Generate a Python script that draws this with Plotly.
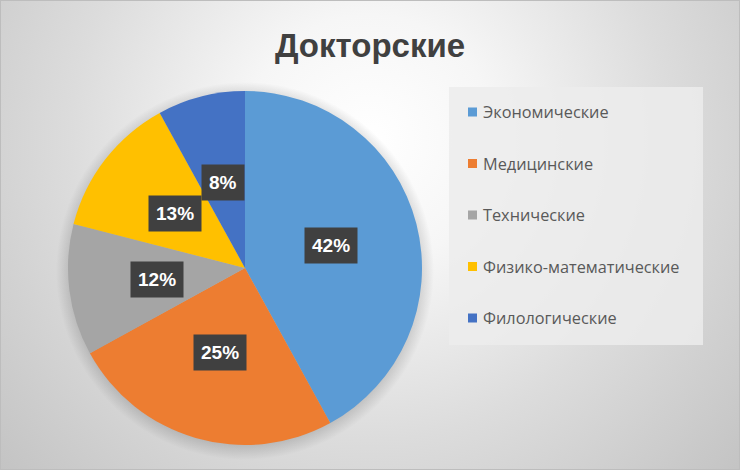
import base64
import math
import plotly.graph_objects as go

# ---- data ----
title_text = "Докторские"
categories = ["Экономические", "Медицинские", "Технические", "Физико-математические", "Филологические"]
values = [42, 25, 12, 13, 8]
colors = ["#5B9BD5", "#ED7D31", "#A5A5A5", "#FFC000", "#4472C4"]

W, H = 740, 470
FONT = "Liberation Sans, Arial, sans-serif"
LFONT = "Open Sans, Liberation Sans, sans-serif"

# pie geometry (pixels)
cx, cy, R = 245, 268, 177

# background gradient as SVG (with soft shadow under the pie)
svg = f"""<svg xmlns='http://www.w3.org/2000/svg' width='{W}' height='{H}'>
<defs><radialGradient id='g' gradientUnits='userSpaceOnUse' cx='370' cy='140' r='500'>
<stop offset='0' stop-color='#ffffff'/>
<stop offset='0.25' stop-color='#f6f6f6'/>
<stop offset='0.6' stop-color='#dcdcdc'/>
<stop offset='1' stop-color='#c3c3c3'/>
</radialGradient>
<radialGradient id='s' gradientUnits='userSpaceOnUse' cx='{cx}' cy='{cy + 3}' r='{R + 12}'>
<stop offset='0.88' stop-color='#000' stop-opacity='0.22'/>
<stop offset='1' stop-color='#000' stop-opacity='0'/>
</radialGradient>
</defs>
<rect width='{W}' height='{H}' fill='url(#g)'/>
<circle cx='{cx}' cy='{cy + 3}' r='{R + 12}' fill='url(#s)'/>
</svg>"""
bg_src = "data:image/svg+xml;base64," + base64.b64encode(svg.encode()).decode()

fig = go.Figure()
fig.add_trace(go.Pie(
    labels=categories,
    values=values,
    sort=False,
    direction="clockwise",
    rotation=0,
    marker=dict(colors=colors, line=dict(width=0)),
    textinfo="none",
    hoverinfo="label+percent",
    domain=dict(x=[(cx - R) / W, (cx + R) / W], y=[(H - cy - R) / H, (H - cy + R) / H]),
    showlegend=False,
))

annotations = []
# data labels computed from values
total = sum(values)
cum = 0
for v in values:
    mid = (cum + v / 2) / total * 2 * math.pi
    cum += v
    px = cx + 0.5 * R * math.sin(mid)
    py = cy - 0.5 * R * math.cos(mid)
    annotations.append(dict(
        x=px / W, y=1 - py / H, xref="paper", yref="paper",
        text=f"<b>{round(v / total * 100)}%</b>", showarrow=False,
        font=dict(family=FONT, size=19, color="white"),
        bgcolor="#404040", borderpad=7, xanchor="center", yanchor="middle",
    ))

shapes = []
# legend box
lx0, ly0, lx1, ly1 = 449, 87, 703, 345
shapes.append(dict(type="rect", xref="paper", yref="paper",
                   x0=lx0 / W, x1=lx1 / W, y0=1 - ly1 / H, y1=1 - ly0 / H,
                   fillcolor="rgba(236,236,236,0.85)", line=dict(width=0), layer="below"))
first_y, step = 112, 51.5
for i, (lab, col) in enumerate(zip(categories, colors)):
    yy = first_y + i * step
    shapes.append(dict(type="rect", xref="paper", yref="paper",
                       x0=468 / W, x1=477 / W, y0=1 - (yy + 4.5) / H, y1=1 - (yy - 4.5) / H,
                       fillcolor=col, line=dict(width=0)))
    annotations.append(dict(
        x=481 / W, y=1 - yy / H, xref="paper", yref="paper", text=lab, showarrow=False,
        font=dict(family=LFONT, size=16.3, color="#595959"), xanchor="left", yanchor="middle",
    ))

# outer border
shapes.append(dict(type="rect", xref="paper", yref="paper", x0=0, x1=1, y0=0, y1=1,
                   line=dict(color="#bdbdbd", width=2), fillcolor="rgba(0,0,0,0)"))

fig.update_layout(
    width=W, height=H,
    margin=dict(l=0, r=0, t=0, b=0),
    paper_bgcolor="#d9d9d9",
    plot_bgcolor="rgba(0,0,0,0)",
    title=dict(text=f"<b>{title_text}</b>", x=0.5, xanchor="center", y=1 - 45 / H, yanchor="middle",
               xref="paper", yref="paper",
               font=dict(family=FONT, size=33, color="#404040")),
    images=[dict(source=bg_src, xref="paper", yref="paper", x=0, y=1, sizex=1, sizey=1,
                 sizing="stretch", layer="below", xanchor="left", yanchor="top")],
    annotations=annotations,
    shapes=shapes,
)

fig.write_html("out.html")
